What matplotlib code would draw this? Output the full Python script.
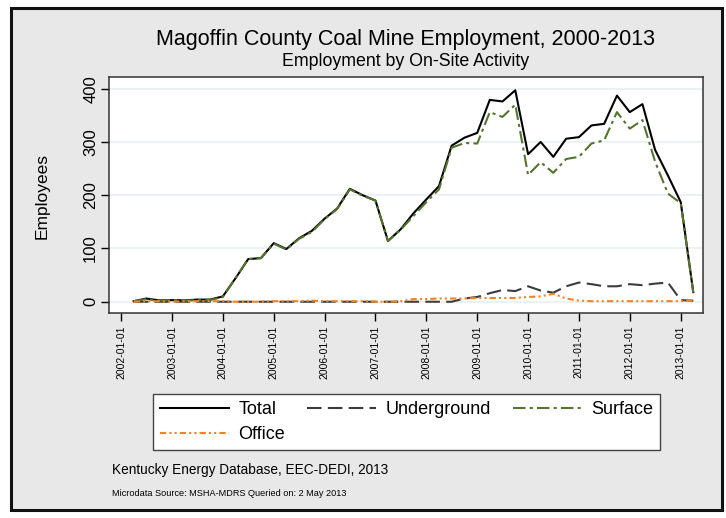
import numpy as np
import pandas as pd
import matplotlib
matplotlib.use('Agg')
import matplotlib.pyplot as plt
import matplotlib.dates as mdates
from matplotlib.patches import Rectangle

plt.rcParams['font.family'] = ['Liberation Sans', 'DejaVu Sans']

# quarterly observations, 2002Q2 .. 2013Q2
dates = pd.date_range('2002-04-01', periods=45, freq='QS')

total = [1, 6, 2.5, 3, 2.5, 4, 4, 10, 44, 80, 82, 110, 99, 119, 133, 156, 175, 212,
         200, 190, 114, 136, 166, 192, 217, 293, 308, 317, 379, 376, 397, 277, 300,
         272, 306, 309, 331, 334, 387, 356, 371, 285, 237, 187, 18]
underground = [0] * 26 + [6, 9, 16, 22, 20, 29, 21, 17, 29, 36, 33, 29, 29, 33, 31,
                          34, 36, 3, 2]
surface = [1, 5, 2, 3, 2, 3, 3, 9, 44, 80, 82, 109, 98, 118, 131, 155, 174, 211, 199,
           190, 114, 135, 161, 187, 211, 289, 298, 297, 356, 347, 370, 238, 262, 242,
           268, 272, 297, 303, 356, 325, 341, 263, 203, 185, 17]
office = [0, 1, 1, 0, 1, 1, 1, 1, 0, 0, 0, 1, 1, 1, 2, 1, 1, 1, 1, 0, 0, 1, 5, 5, 6,
          6, 6, 7, 7, 7, 7, 9, 10, 15, 6, 2, 1, 1, 1, 1, 1, 1, 1, 1, 3]

tick_years = list(range(2002, 2014))

W, H = 726, 518
fig = plt.figure(figsize=(W / 100, H / 100), dpi=100, facecolor='white')

# grey panel with dark frame
fig.patches.append(Rectangle((11 / W, 1 - 510 / H), (722 - 11) / W, (510 - 8) / H,
                             transform=fig.transFigure, facecolor='#e8e8e8',
                             edgecolor='#111111', lw=2.2, zorder=-10))

ax = fig.add_axes([109.3 / W, 1 - 312.7 / H, (703.3 - 109.3) / W, (312.7 - 76.7) / H])
ax.set_zorder(2)
ax.set_facecolor('white')

ax.plot(dates, total, color='black', lw=1.5, label='Total', zorder=5)
ax.plot(dates, underground, color='#3c3c3c', lw=1.5, dashes=(7, 3), label='Underground', zorder=4)
ax.plot(dates, surface, color='#557430', lw=1.5, dashes=(6, 2, 1.5, 2), label='Surface', zorder=6)
ax.plot(dates, office, color='#f5821f', lw=1.5, dashes=(3, 1.5, 1, 1.5, 1, 1.5), label='Office', zorder=7)

ax.set_ylim(-20.6, 422.5)
ax.set_yticks([0, 100, 200, 300, 400])
ax.grid(axis='y', color='#e9eff1', lw=1.2)
ax.set_axisbelow(True)

ax.set_xlim(mdates.date2num(pd.Timestamp('2001-10-08')), mdates.date2num(pd.Timestamp('2013-06-12')))
ax.set_xticks([pd.Timestamp(f'{y}-01-01') for y in tick_years])
ax.xaxis.set_major_formatter(mdates.DateFormatter('%Y-%m-%d'))
ax.tick_params(axis='x', labelrotation=90, labelsize=7.5, length=6, width=1, pad=3)
ax.tick_params(axis='y', labelsize=12, length=6, width=1, pad=2)
for lab in ax.get_yticklabels():
    lab.set_rotation(90)
    lab.set_va('center')
for s in ax.spines.values():
    s.set_color('#333333')
    s.set_linewidth(1.1)

fig.text(42 / W, 1 - 196 / H, 'Employees', rotation=90, ha='center', va='center', fontsize=12.5)
fig.text(406 / W, 1 - 39 / H, 'Magoffin County Coal Mine Employment, 2000-2013',
         ha='center', va='center', fontsize=15.5)
fig.text(406 / W, 1 - 62 / H, 'Employment by On-Site Activity',
         ha='center', va='center', fontsize=12.8)

h, l = ax.get_legend_handles_labels()
order = [0, 3, 1, 2]
leg = fig.legend([h[i] for i in order], [l[i] for i in order], loc='upper center',
                 bbox_to_anchor=(406.5 / W, 1 - 394 / H),
                 ncol=3, fontsize=13, handlelength=3.8, handletextpad=0.55,
                 columnspacing=1.2, borderaxespad=0, borderpad=0.38, labelspacing=0.45,
                 fancybox=False, framealpha=1, edgecolor='#444444', facecolor='white')
leg.set_zorder(3)

fig.text(112 / W, 1 - 470 / H, 'Kentucky Energy Database, EEC-DEDI, 2013',
         ha='left', va='center', fontsize=9.8)
fig.text(112 / W, 1 - 493 / H, 'Microdata Source: MSHA-MDRS Queried on: 2 May 2013',
         ha='left', va='center', fontsize=6.6)

fig.savefig('out.png', dpi=100, facecolor='white')
